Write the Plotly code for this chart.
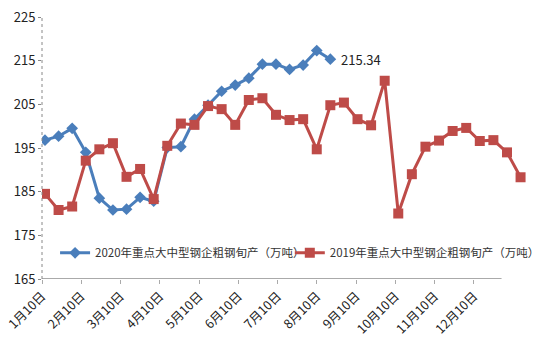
import plotly.graph_objects as go

months = ["1月10日", "2月10日", "3月10日", "4月10日", "5月10日", "6月10日",
          "7月10日", "8月10日", "9月10日", "10月10日", "11月10日", "12月10日"]

s2020_name = "2020年重点大中型钢企粗钢旬产（万吨）"
s2019_name = "2019年重点大中型钢企粗钢旬产（万吨）"

s2020 = [196.8, 197.7, 199.5, 194.0, 183.5, 180.8, 181.0, 183.7, 182.8, 195.1, 195.3,
         201.6, 204.8, 208.0, 209.4, 211.0, 214.2, 214.2, 213.0, 214.0, 217.3, 215.34]

s2019 = [184.5, 180.8, 181.6, 192.1, 194.7, 196.1, 188.4, 190.2, 183.3, 195.5, 200.6,
         200.3, 204.6, 203.9, 200.3, 206.0, 206.4, 202.6, 201.4, 201.6, 194.7, 204.8,
         205.4, 201.6, 200.2, 210.4, 180.0, 189.0, 195.3, 196.7, 198.9, 199.6, 196.6,
         196.8, 194.0, 188.3]

BLUE = "#4A7EBB"
RED = "#BE4B48"
FONT = "Noto Sans CJK SC"

x2020 = list(range(len(s2020)))
x2019 = list(range(len(s2019)))

fig = go.Figure()
fig.add_trace(go.Scatter(
    x=x2020, y=s2020, name=s2020_name, mode="lines+markers",
    line=dict(color=BLUE, width=3),
    marker=dict(symbol="diamond", size=9, color=BLUE),
    legend="legend",
))
fig.add_trace(go.Scatter(
    x=x2019, y=s2019, name=s2019_name, mode="lines+markers",
    line=dict(color=RED, width=3),
    marker=dict(symbol="square", size=10, color=RED),
    legend="legend2",
))

tick_step = 2.89
tick_start = -0.22
tickvals = [tick_start + tick_step * k for k in range(len(months))]

fig.add_annotation(
    x=x2020[-1], y=s2020[-1], text=f"{s2020[-1]:.2f}", showarrow=False,
    xanchor="left", xshift=9, font=dict(size=13, color="#222", family=FONT),
)

# x axis line (shorter than plot area) and dotted y axis line
fig.add_shape(type="line", xref="x", yref="y", x0=tick_start, x1=33.6, y0=165, y1=165,
              line=dict(color="#AAAAAA", width=2))
fig.add_shape(type="line", xref="paper", yref="paper", x0=0, x1=0, y0=0, y1=1,
              line=dict(color="#888888", width=1, dash="dot"))

legend_common = dict(orientation="h", y=0.1, xanchor="left", yanchor="middle",
                     font=dict(size=11.5, color="#333", family=FONT),
                     bgcolor="rgba(0,0,0,0)")

fig.update_layout(
    width=542, height=354,
    margin=dict(l=42, r=16, t=17, b=75, autoexpand=False),
    paper_bgcolor="white", plot_bgcolor="white",
    font=dict(family=FONT, color="#222"),
    showlegend=True,
    legend=dict(x=0.027, **legend_common),
    legend2=dict(x=0.512, **legend_common),
    xaxis=dict(range=[tick_start, 35.4], tickmode="array", tickvals=tickvals,
               ticktext=months, tickangle=-45, showgrid=False, zeroline=False,
               showline=False, ticks="outside", ticklen=4, tickcolor="#AAAAAA",
               tickfont=dict(size=12.5, color="#222", family=FONT)),
    yaxis=dict(range=[165, 225], tickmode="array", tickvals=[165, 175, 185, 195, 205, 215, 225],
               showgrid=False, zeroline=False, showline=False, ticks="outside",
               ticklen=3, tickcolor="#888888",
               tickfont=dict(size=13, color="#222", family=FONT)),
)

fig.write_html("out.html")
